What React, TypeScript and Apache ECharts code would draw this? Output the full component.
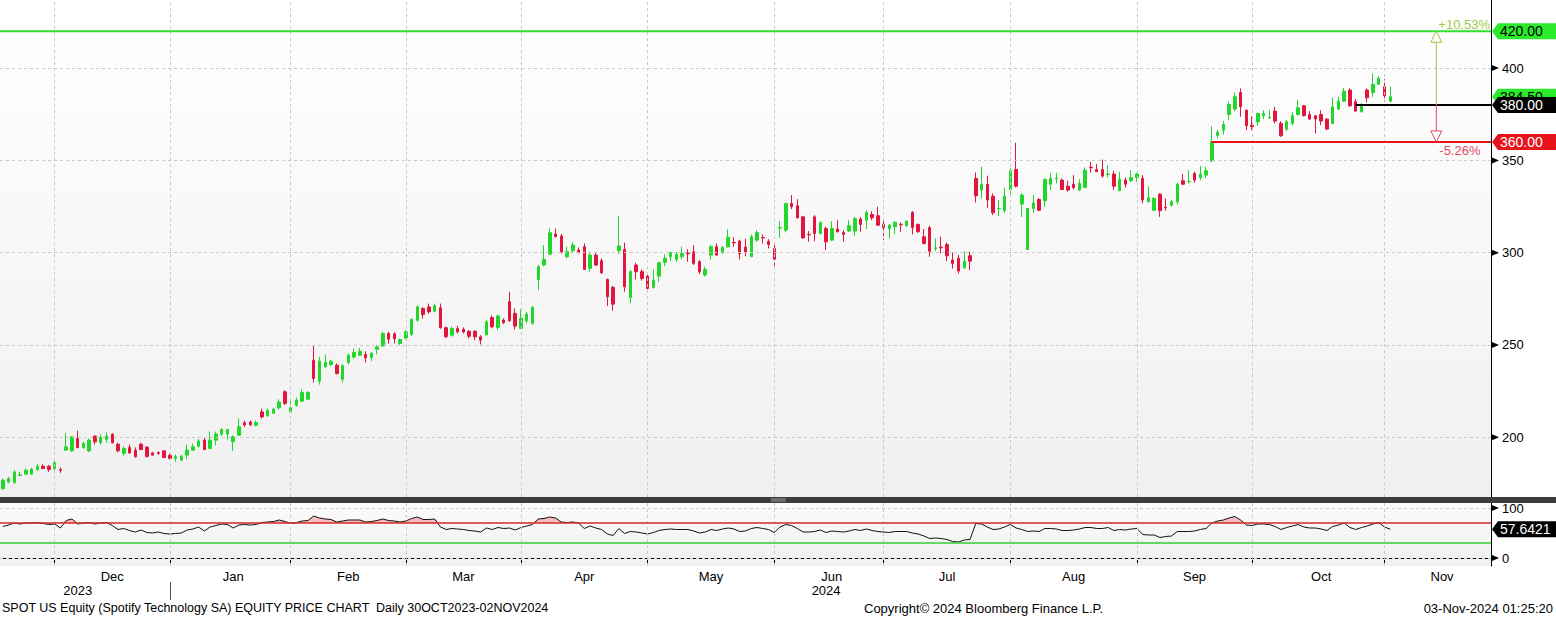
import React, { useEffect, useRef } from "react";
import * as echarts from "echarts";

// ---------- calendar ----------
const START_DATE = "2023-11-16";
const HOLIDAYS = [
  "2023-11-23", "2023-12-25", "2024-01-01", "2024-01-15", "2024-02-19", "2024-03-29",
  "2024-05-27", "2024-06-19", "2024-07-04", "2024-09-02", "2024-11-28",
];
const AXIS_LENGTH = 259;
const MONTH_NAMES = ["Jan", "Feb", "Mar", "Apr", "May", "Jun", "Jul", "Aug", "Sep", "Oct", "Nov", "Dec"];

// ---------- data: [open, high, low, close] per trading day ----------
const OHLC: number[][] = [
  [172.2, 177.6, 171.3, 176.7], [175.8, 178.5, 175.0, 177.6], [175.3, 182.1, 174.9, 181.2], [179.3, 181.2, 178.9, 179.6],
  [180.0, 183.0, 179.5, 182.1], [180.0, 183.5, 179.6, 182.7], [182.5, 185.4, 182.0, 184.3], [184.3, 185.4, 182.7, 183.0],
  [184.3, 184.9, 181.2, 182.5], [183.0, 187.2, 181.2, 186.1], [182.5, 183.6, 180.7, 182.1], [193.0, 202.4, 192.6, 194.8],
  [192.6, 200.6, 192.1, 200.2], [199.3, 203.5, 194.0, 194.4], [194.4, 197.5, 193.8, 196.6], [192.6, 199.3, 191.9, 198.4],
  [200.6, 201.0, 196.0, 197.5], [197.0, 201.5, 196.0, 199.8], [198.8, 202.6, 197.0, 200.6], [201.7, 202.0, 196.6, 197.0],
  [196.2, 197.0, 191.8, 192.6], [191.2, 195.0, 190.0, 193.9], [194.4, 196.0, 191.0, 191.5], [193.0, 194.5, 189.0, 189.4],
  [196.2, 197.0, 193.0, 193.3], [194.6, 195.2, 189.0, 189.5], [191.5, 192.0, 190.0, 190.3], [191.6, 192.4, 190.5, 191.2],
  [192.6, 193.0, 188.6, 189.0], [190.1, 191.0, 188.0, 188.5], [188.5, 190.6, 186.7, 189.4], [187.6, 190.4, 187.0, 189.7],
  [190.3, 196.0, 188.0, 193.0], [193.0, 196.5, 192.6, 194.8], [195.1, 199.0, 194.5, 198.0], [198.4, 199.5, 193.0, 193.3],
  [193.9, 203.0, 193.5, 198.4], [198.4, 203.0, 195.5, 201.7], [201.7, 205.0, 200.6, 204.2], [201.7, 204.5, 198.8, 204.2],
  [197.5, 201.0, 192.6, 200.2], [201.1, 210.3, 200.6, 205.6], [207.8, 209.0, 205.5, 206.6], [208.3, 209.0, 206.0, 206.8],
  [206.5, 209.0, 206.0, 207.9], [213.7, 215.5, 210.1, 211.0], [211.6, 215.5, 211.0, 214.6], [213.0, 216.0, 212.5, 215.2],
  [215.9, 220.5, 215.0, 219.1], [224.6, 225.5, 217.5, 218.2], [213.7, 220.0, 213.4, 215.9], [217.3, 221.5, 216.5, 220.1],
  [219.5, 226.0, 219.0, 224.2], [220.6, 225.0, 220.0, 224.2], [241.7, 249.5, 229.6, 231.8], [230.3, 243.5, 228.5, 241.2],
  [238.1, 244.8, 237.8, 240.5], [239.4, 242.0, 238.5, 241.2], [239.0, 240.0, 234.0, 234.5], [231.4, 239.5, 229.6, 238.7],
  [240.5, 245.5, 239.5, 244.4], [243.5, 248.1, 242.5, 245.9], [244.4, 248.4, 244.0, 246.6], [244.8, 246.6, 240.5, 243.0],
  [243.2, 246.0, 241.2, 245.5], [247.7, 249.9, 245.0, 248.9], [249.5, 257.0, 248.9, 256.2], [256.2, 257.1, 250.8, 253.1],
  [256.0, 256.8, 250.8, 253.3], [250.8, 253.5, 250.0, 252.9], [253.8, 258.0, 253.0, 257.1], [255.6, 264.3, 254.9, 263.9],
  [263.4, 271.5, 262.5, 270.6], [269.7, 270.5, 264.3, 266.5], [270.6, 272.4, 267.0, 267.9], [268.3, 272.4, 267.6, 271.2],
  [270.1, 272.4, 258.8, 259.3], [259.3, 260.0, 253.8, 254.4], [255.3, 260.0, 254.5, 258.9], [258.9, 260.3, 256.2, 257.1],
  [258.5, 259.5, 256.2, 257.1], [257.4, 258.0, 253.5, 254.7], [257.4, 258.0, 252.6, 254.4], [254.4, 255.3, 250.2, 252.6],
  [255.6, 263.5, 255.0, 262.5], [264.8, 266.0, 259.0, 259.8], [259.4, 266.5, 258.0, 265.7], [263.5, 264.4, 261.3, 262.0],
  [273.4, 278.8, 262.5, 263.1], [267.1, 269.8, 258.4, 260.2], [258.9, 269.2, 258.5, 264.4], [263.1, 268.0, 261.7, 266.7],
  [261.7, 271.0, 261.0, 270.3], [285.5, 293.3, 279.7, 292.4], [293.3, 304.1, 292.7, 296.3], [299.2, 313.1, 298.7, 310.8],
  [310.1, 313.1, 308.3, 308.6], [309.0, 310.1, 299.6, 300.5], [297.8, 303.2, 296.9, 300.5], [301.0, 305.9, 299.6, 304.1],
  [301.4, 302.8, 299.6, 300.0], [303.2, 305.0, 290.6, 290.9], [291.5, 300.5, 289.7, 298.7], [298.7, 300.0, 292.7, 293.3],
  [295.6, 296.9, 288.5, 289.1], [285.5, 286.0, 271.1, 276.1], [281.2, 282.0, 268.5, 272.1], [301.0, 319.8, 299.2, 303.6],
  [301.8, 305.4, 278.8, 281.5], [275.7, 290.6, 272.5, 289.7], [293.3, 294.5, 285.5, 289.7], [289.7, 290.9, 284.8, 286.0],
  [287.3, 288.4, 280.1, 280.6], [281.2, 290.9, 280.6, 285.1], [287.3, 295.1, 284.2, 294.5], [294.7, 299.2, 292.7, 296.9],
  [297.8, 300.5, 295.6, 300.0], [296.3, 300.5, 295.1, 299.2], [297.8, 303.2, 296.3, 299.6], [299.8, 301.8, 295.1, 299.4],
  [300.5, 304.1, 293.3, 294.2], [295.1, 296.0, 288.4, 289.7], [287.9, 292.4, 287.0, 290.9], [298.7, 304.1, 296.3, 303.2],
  [303.2, 305.0, 298.1, 298.7], [300.0, 303.6, 299.2, 302.8], [303.2, 312.6, 302.8, 308.3], [305.6, 308.3, 303.2, 305.3],
  [306.3, 307.0, 296.3, 299.4], [303.0, 307.5, 298.0, 300.1], [297.8, 309.9, 297.8, 308.6], [306.8, 312.2, 305.9, 310.9],
  [308.2, 309.9, 305.0, 308.0], [306.2, 307.3, 302.3, 304.4], [302.3, 305.0, 292.9, 296.5], [313.3, 317.1, 308.0, 313.6],
  [312.2, 327.0, 311.0, 326.7], [326.7, 331.2, 323.6, 324.9], [325.4, 329.0, 318.5, 318.9], [319.4, 320.0, 307.6, 308.0],
  [309.9, 311.7, 305.9, 309.7], [319.4, 320.3, 306.2, 310.4], [310.4, 317.0, 309.9, 316.4], [313.1, 314.0, 301.4, 305.9],
  [306.8, 317.1, 306.2, 313.1], [312.8, 317.6, 311.0, 311.3], [310.9, 312.2, 305.9, 309.9], [311.7, 317.6, 311.3, 314.6],
  [311.7, 319.4, 309.1, 318.5], [318.2, 319.4, 311.3, 315.3], [317.6, 323.0, 312.8, 321.8], [320.7, 322.5, 317.6, 318.9],
  [320.0, 324.9, 314.6, 314.9], [315.3, 317.1, 306.8, 313.5], [313.1, 315.5, 307.7, 314.9], [314.0, 317.1, 309.9, 316.4],
  [315.4, 316.4, 311.3, 315.1], [314.6, 317.6, 314.0, 317.1], [321.8, 322.5, 309.9, 313.5], [315.3, 315.8, 310.9, 311.3],
  [308.6, 312.8, 304.4, 305.0], [313.5, 314.6, 297.8, 300.8], [302.2, 307.7, 300.8, 302.6], [303.0, 308.6, 299.6, 302.6],
  [304.4, 305.5, 295.4, 298.3], [296.0, 300.1, 291.4, 294.1], [296.9, 298.7, 288.7, 290.0], [291.8, 300.8, 291.1, 295.4],
  [298.3, 300.5, 290.5, 295.4], [340.2, 343.5, 327.2, 330.8], [333.9, 346.5, 329.4, 337.0], [337.0, 341.7, 324.3, 328.5],
  [330.6, 332.1, 320.3, 321.6], [323.8, 328.5, 319.8, 324.0], [322.7, 335.3, 321.6, 330.6], [334.2, 345.6, 330.3, 344.4],
  [345.1, 359.5, 335.3, 336.0], [326.3, 332.4, 319.4, 331.2], [301.7, 324.0, 301.4, 323.9], [323.9, 331.2, 321.6, 327.0],
  [328.8, 329.5, 322.5, 323.0], [328.1, 340.2, 324.8, 339.7], [337.1, 343.3, 333.9, 340.2], [340.1, 343.3, 337.5, 340.4],
  [339.3, 340.2, 333.9, 334.2], [336.0, 338.9, 333.0, 333.9], [337.1, 342.0, 334.2, 335.3], [333.9, 339.7, 333.5, 337.5],
  [335.3, 346.2, 335.3, 344.7], [346.3, 349.2, 343.3, 346.0], [345.1, 348.0, 343.8, 343.9], [345.1, 350.5, 340.7, 341.5],
  [342.4, 347.4, 340.7, 342.6], [342.6, 344.4, 333.9, 336.0], [333.5, 343.8, 333.5, 339.7], [339.3, 340.7, 335.3, 337.1],
  [339.0, 344.7, 338.4, 340.7], [340.7, 343.3, 338.4, 342.6], [340.2, 342.0, 326.7, 328.5], [327.6, 336.0, 327.0, 329.9],
  [323.0, 330.0, 322.5, 329.4], [331.7, 332.1, 319.4, 322.7], [324.6, 329.4, 322.7, 324.3], [325.7, 328.5, 325.0, 327.6],
  [327.6, 337.9, 326.3, 337.1], [339.0, 342.6, 336.6, 337.1], [338.4, 344.7, 337.5, 338.6], [342.9, 343.8, 337.9, 339.3],
  [340.7, 346.9, 339.3, 342.6], [342.0, 346.5, 340.2, 344.4], [349.7, 368.5, 349.2, 360.2], [363.5, 366.6, 362.0, 365.3],
  [366.4, 371.3, 364.0, 369.5], [374.9, 381.8, 371.8, 380.3], [377.8, 386.8, 376.7, 384.5], [386.8, 389.0, 373.6, 379.1],
  [377.2, 377.5, 366.4, 368.8], [369.1, 373.6, 366.4, 368.2], [370.9, 375.8, 368.7, 375.4], [374.2, 377.2, 372.4, 375.4],
  [373.0, 377.2, 372.4, 373.2], [376.7, 379.0, 370.0, 371.3], [370.0, 371.3, 362.8, 363.3], [366.9, 371.8, 365.9, 370.9],
  [370.0, 376.0, 369.1, 374.2], [374.9, 382.7, 374.2, 378.5], [379.6, 380.0, 373.8, 374.2], [374.9, 376.7, 371.8, 372.4],
  [374.2, 374.5, 364.6, 372.4], [374.9, 377.2, 369.1, 371.3], [372.4, 372.8, 366.4, 367.0], [370.0, 383.9, 370.0, 379.0],
  [377.8, 384.5, 377.2, 382.1], [382.1, 389.3, 381.8, 387.5], [388.1, 389.0, 379.0, 379.6], [381.8, 383.2, 376.3, 376.7],
  [376.3, 380.9, 376.0, 380.3], [388.1, 389.0, 381.4, 383.9], [386.8, 397.1, 384.5, 391.2], [391.2, 395.8, 390.8, 394.4],
  [389.9, 394.0, 381.8, 385.0], [382.1, 389.9, 381.4, 384.5],
];

const RSI: number[] = [
  63, 66, 70, 68, 70, 70, 71, 69, 67, 68, 60, 75, 78, 68, 70, 71, 68, 70, 71, 65,
  57, 59, 55, 52, 56, 51, 50, 52, 49, 48, 49, 50, 56, 58, 62, 54, 62, 65, 68, 67,
  60, 66, 67, 66, 67, 71, 72, 73, 76, 73, 69, 71, 74, 75, 84, 80, 78, 77, 72, 74,
  76, 76, 76, 72, 73, 75, 78, 75, 74, 72, 74, 79, 82, 77, 77, 78, 62, 57, 59, 58,
  57, 55, 54, 52, 60, 57, 61, 59, 60, 56, 61, 64, 67, 78, 79, 82, 80, 72, 71, 72,
  70, 59, 64, 60, 57, 48, 45, 59, 49, 53, 52, 50, 48, 51, 55, 57, 58, 57, 57, 57,
  54, 50, 52, 57, 55, 58, 60, 58, 53, 54, 59, 61, 59, 57, 51, 62, 67, 65, 59, 52,
  52, 53, 56, 51, 54, 53, 52, 54, 57, 55, 58, 55, 53, 52, 51, 53, 53, 53, 50, 48,
  44, 39, 40, 39, 37, 33, 32, 36, 37, 69, 68, 62, 57, 58, 62, 67, 60, 57, 53, 54,
  53, 59, 59, 58, 55, 55, 56, 58, 61, 61, 59, 59, 61, 55, 57, 56, 58, 59, 47, 46,
  46, 41, 43, 44, 53, 53, 53, 54, 57, 59, 70, 74, 76, 80, 83, 76, 66, 65, 68, 68,
  67, 63, 57, 61, 64, 67, 62, 60, 60, 58, 55, 63, 66, 70, 61, 57, 61, 64, 68, 71,
  62, 57.6421,
];

const PRICE_TICKS = [200, 250, 300, 350, 400];
const RSI_TICKS = [0, 100];
const PRICE_MIN = 167.6;
const PRICE_MAX = 436.9;
const RSI_MIN = -16;
const RSI_MAX = 110;
const RSI_OVERBOUGHT = 70;
const RSI_OVERSOLD = 30;
const LEVEL_TOP = 420;
const LEVEL_MID = 380;
const LEVEL_LOW = 360;
const LAST_PRICE = 384.5;
const LEVEL_MID_START = 235;
const LEVEL_LOW_START = 210;
const ARROW_AT = 249;
const UP_PCT = "+10.53%";
const DOWN_PCT = "-5.26%";

// ---------- styles ----------
const FONT = "Liberation Sans";
const UP = "#22d62b";
const DOWN = "#e0163f";
const TAG_GREEN = "#2bea2b";
const LINE_GREEN = "#2ee02e";
const LINE_RED = "#e8141c";
const GRID_W = 1491;

function tradingDays(start: string, count: number): string[] {
  const out: string[] = [];
  const d = new Date(start + "T00:00:00Z");
  while (out.length < count) {
    const wd = d.getUTCDay();
    const s = d.toISOString().slice(0, 10);
    if (wd !== 0 && wd !== 6 && HOLIDAYS.indexOf(s) < 0) out.push(s);
    d.setUTCDate(d.getUTCDate() + 1);
  }
  return out;
}

const CALENDAR = tradingDays(START_DATE, 290);
const CATS = CALENDAR.slice(0, AXIS_LENGTH);

const MONTH_END = new Set<number>();
for (let i = 0; i < AXIS_LENGTH; i++) {
  if (CALENDAR[i].slice(0, 7) !== CALENDAR[i + 1].slice(0, 7)) MONTH_END.add(i);
}
const MONTH_LABEL = new Set<number>();
{
  let s = 0;
  for (let i = 1; i <= CALENDAR.length; i++) {
    if (i === CALENDAR.length || CALENDAR[i].slice(0, 7) !== CALENDAR[s].slice(0, 7)) {
      if (s > 0 && i < CALENDAR.length) {
        const k = Math.floor((s + i - 1) / 2);
        if (k < AXIS_LENGTH) MONTH_LABEL.add(k);
      }
      s = i;
    }
  }
}
const YEAR_LABEL = new Set<number>();
let YEAR_END = -1;
{
  let s = 0;
  for (let i = 1; i <= CATS.length; i++) {
    if (i === CATS.length || CATS[i].slice(0, 4) !== CATS[s].slice(0, 4)) {
      YEAR_LABEL.add(Math.round((s + i) / 2) - 2);
      if (i < CATS.length) YEAR_END = i - 1;
      s = i;
    }
  }
}

const gridLine = { color: "#c9c9c9", type: [3, 3] as any, width: 1 };

function buildOption(): any {
  const candles = OHLC.map(([o, h, l, c]) => [o, c, l, h]);
  const rsiBase = RSI.map(() => RSI_OVERBOUGHT);
  const rsiExcess = RSI.map((v) => Math.max(v - RSI_OVERBOUGHT, 0));
  const vGrid = Array.from(MONTH_END).map((i) => ({ xAxis: CATS[i] }));

  const axisLabelCommon = { color: "#000", fontSize: 13, fontFamily: FONT };

  return {
    animation: false,
    backgroundColor: "#ffffff",
    textStyle: { fontFamily: FONT },
    grid: [
      {
        left: 0, top: 0, width: GRID_W, height: 497, show: true, borderWidth: 0,
        backgroundColor: new echarts.graphic.LinearGradient(0, 0, 0, 1, [
          { offset: 0, color: "#ffffff" },
          { offset: 1, color: "#f0f0f0" },
        ]),
      },
      {
        left: 0, top: 503, width: GRID_W, height: 63, show: true, borderWidth: 0,
        backgroundColor: new echarts.graphic.LinearGradient(0, 0, 0, 1, [
          { offset: 0, color: "#fbfbfb" },
          { offset: 1, color: "#f0f0f0" },
        ]),
      },
    ],
    xAxis: [
      {
        gridIndex: 0, type: "category", data: CATS, boundaryGap: true,
        axisLine: { show: false }, axisTick: { show: false }, axisLabel: { show: false }, splitLine: { show: false },
      },
      {
        gridIndex: 1, type: "category", data: CATS, boundaryGap: true, position: "bottom",
        axisLine: { show: true, lineStyle: { color: "#000", width: 1 } },
        axisTick: {
          show: true, alignWithLabel: true, length: 5, lineStyle: { color: "#000" },
          interval: (i: number) => MONTH_END.has(i),
        },
        axisLabel: {
          ...axisLabelCommon, margin: 4,
          interval: (i: number) => MONTH_LABEL.has(i),
          formatter: (v: string) => MONTH_NAMES[parseInt(v.slice(5, 7), 10) - 1],
        },
        splitLine: { show: false },
      },
      {
        gridIndex: 1, type: "category", data: CATS, boundaryGap: true, position: "bottom", offset: 16,
        axisLine: { show: false },
        axisTick: {
          show: true, alignWithLabel: true, length: 18, lineStyle: { color: "#555" },
          interval: (i: number) => i === YEAR_END,
        },
        axisLabel: {
          ...axisLabelCommon, margin: 2,
          interval: (i: number) => YEAR_LABEL.has(i),
          formatter: (v: string) => v.slice(0, 4),
        },
        splitLine: { show: false },
      },
    ],
    yAxis: [
      {
        gridIndex: 0, type: "value", position: "right", min: PRICE_MIN, max: PRICE_MAX,
        axisLine: { show: true, lineStyle: { color: "#000", width: 1 } },
        axisTick: { show: false },
        splitLine: { show: false },
        axisLabel: { ...axisLabelCommon, margin: 11, customValues: PRICE_TICKS },
      },
      {
        gridIndex: 1, type: "value", position: "right", min: RSI_MIN, max: RSI_MAX,
        axisLine: { show: true, lineStyle: { color: "#000", width: 1 } },
        axisTick: { show: false },
        splitLine: { show: false },
        axisLabel: { ...axisLabelCommon, margin: 11, customValues: RSI_TICKS },
      },
    ],
    series: [
      {
        name: "grid-main", type: "line", xAxisIndex: 0, yAxisIndex: 0, data: [], z: 1, silent: true,
        markLine: {
          silent: true, symbol: "none", animation: false, label: { show: false },
          lineStyle: gridLine,
          data: [...PRICE_TICKS.map((v) => ({ yAxis: v })), ...vGrid],
        },
      },
      {
        name: "price", type: "candlestick", xAxisIndex: 0, yAxisIndex: 0, data: candles, z: 3, silent: true,
        barWidth: 3,
        itemStyle: { color: UP, color0: DOWN, borderColor: UP, borderColor0: DOWN, borderWidth: 1 },
      },
      {
        name: "grid-rsi", type: "line", xAxisIndex: 1, yAxisIndex: 1, data: [], z: 1, silent: true,
        markLine: {
          silent: true, symbol: "none", animation: false, label: { show: false },
          lineStyle: gridLine,
          data: [...RSI_TICKS.map((v) => ({ yAxis: v })), ...vGrid],
        },
      },
      {
        name: "rsi-base", type: "line", xAxisIndex: 1, yAxisIndex: 1, data: rsiBase, stack: "ob",
        symbol: "none", lineStyle: { width: 0, opacity: 0 }, z: 2, silent: true,
      },
      {
        name: "rsi-excess", type: "line", xAxisIndex: 1, yAxisIndex: 1, data: rsiExcess, stack: "ob",
        symbol: "none", lineStyle: { width: 0, opacity: 0 }, areaStyle: { color: "#f4bcbc", opacity: 1 },
        z: 2, silent: true,
      },
      {
        name: "rsi", type: "line", xAxisIndex: 1, yAxisIndex: 1, data: RSI, symbol: "none", z: 4, silent: true,
        lineStyle: { color: "#111", width: 1 },
        markLine: {
          silent: true, symbol: "none", animation: false, label: { show: false },
          data: [
            { yAxis: RSI_OVERBOUGHT, lineStyle: { color: "#d42a2a", width: 1.5, type: "solid" } },
            { yAxis: RSI_OVERSOLD, lineStyle: { color: "#33cc33", width: 1.5, type: "solid" } },
          ],
        },
      },
    ],
  };
}

function tag(xl: number, xr: number, yc: number, fill: string, text: string, textColor: string, z: number) {
  const h = 8;
  return [
    {
      type: "polygon", z, silent: true,
      shape: { points: [[xl, yc], [xl + 6, yc - h], [xr, yc - h], [xr, yc + h], [xl + 6, yc + h]] },
      style: { fill },
    },
    {
      type: "text", z: z + 1, silent: true, x: xl + 8, y: yc,
      style: { text, fill: textColor, fontSize: 14, fontFamily: FONT, verticalAlign: "middle", align: "left" },
    },
  ];
}

export default function App() {
  const ref = useRef<HTMLDivElement>(null);

  useEffect(() => {
    document.body.style.margin = "0";
    const chart = echarts.init(ref.current!, null, { renderer: "svg" });
    chart.setOption(buildOption());

    const py = (v: number) => chart.convertToPixel({ yAxisIndex: 0 }, v) as number;
    const ry = (v: number) => chart.convertToPixel({ yAxisIndex: 1 }, v) as number;
    const cx = (i: number) => chart.convertToPixel({ xAxisIndex: 0 }, i) as number;
    const band = cx(1) - cx(0);
    const right = cx(AXIS_LENGTH - 1) + band / 2;
    const W = 1556;
    const els: any[] = [];

    // level lines
    els.push({ type: "line", z: 10, silent: true, shape: { x1: 0, y1: py(LEVEL_TOP), x2: right, y2: py(LEVEL_TOP) }, style: { stroke: LINE_GREEN, lineWidth: 2 } });
    els.push({ type: "line", z: 10, silent: true, shape: { x1: cx(LEVEL_MID_START), y1: py(LEVEL_MID), x2: right, y2: py(LEVEL_MID) }, style: { stroke: "#000", lineWidth: 2 } });
    els.push({ type: "line", z: 10, silent: true, shape: { x1: cx(LEVEL_LOW_START), y1: py(LEVEL_LOW), x2: right, y2: py(LEVEL_LOW) }, style: { stroke: LINE_RED, lineWidth: 2 } });

    // measuring arrow
    const ax = cx(ARROW_AT);
    const yT = py(LEVEL_TOP), yM = py(LEVEL_MID), yL = py(LEVEL_LOW);
    const upC = "#a4c43c", dnC = "#e04a64";
    els.push({ type: "line", z: 11, silent: true, shape: { x1: ax, y1: yM, x2: ax, y2: yT + 10 }, style: { stroke: upC, lineWidth: 1 } });
    els.push({ type: "line", z: 11, silent: true, shape: { x1: ax, y1: yM, x2: ax, y2: yL - 10 }, style: { stroke: dnC, lineWidth: 1 } });
    els.push({ type: "polygon", z: 12, silent: true, shape: { points: [[ax, yT], [ax - 5.5, yT + 11], [ax + 5.5, yT + 11]] }, style: { fill: "#ffffff", stroke: upC, lineWidth: 1 } });
    els.push({ type: "polygon", z: 12, silent: true, shape: { points: [[ax, yL], [ax - 5.5, yL - 11], [ax + 5.5, yL - 11]] }, style: { fill: "#ffffff", stroke: dnC, lineWidth: 1 } });
    els.push({ type: "text", z: 12, silent: true, x: ax + 2, y: yT - 7, style: { text: UP_PCT, fill: "#9ccc44", fontSize: 13, fontFamily: FONT, verticalAlign: "middle" } });
    els.push({ type: "text", z: 12, silent: true, x: ax + 3, y: yL + 9, style: { text: DOWN_PCT, fill: "#e04a64", fontSize: 13, fontFamily: FONT, verticalAlign: "middle" } });

    // axis triangles
    const axisX = right;
    PRICE_TICKS.forEach((v) => {
      const y = py(v);
      els.push({ type: "polygon", z: 5, silent: true, shape: { points: [[axisX + 1, y - 3], [axisX + 8, y], [axisX + 1, y + 3]] }, style: { fill: "#000" } });
    });
    RSI_TICKS.forEach((v) => {
      const y = ry(v);
      els.push({ type: "polygon", z: 5, silent: true, shape: { points: [[axisX + 1, y - 3], [axisX + 8, y], [axisX + 1, y + 3]] }, style: { fill: "#000" } });
    });

    // tags (the last-price tag sits partly under the 380 tag, as in the source)
    els.push(...tag(axisX + 1, W, py(LEVEL_TOP), TAG_GREEN, LEVEL_TOP.toFixed(2), "#000", 20));
    els.push(...tag(axisX + 1, W, py(LAST_PRICE), TAG_GREEN, LAST_PRICE.toFixed(2), "#000", 20));
    els.push(...tag(axisX + 1, W, py(LEVEL_MID), "#000", LEVEL_MID.toFixed(2), "#fff", 22));
    els.push(...tag(axisX + 1, W, py(LEVEL_LOW), LINE_RED, LEVEL_LOW.toFixed(2), "#fff", 22));
    els.push(...tag(axisX + 1, W, ry(RSI[RSI.length - 1]), "#000", RSI[RSI.length - 1].toFixed(4), "#fff", 22));

    // panel separator
    els.push({ type: "rect", z: 30, silent: true, shape: { x: 0, y: 497, width: W, height: 6 }, style: { fill: "#3c3c3c" } });
    els.push({ type: "line", z: 31, silent: true, shape: { x1: 771, y1: 499, x2: 786, y2: 499 }, style: { stroke: "#9a9a9a", lineWidth: 1 } });
    els.push({ type: "line", z: 31, silent: true, shape: { x1: 771, y1: 501, x2: 786, y2: 501 }, style: { stroke: "#9a9a9a", lineWidth: 1 } });

    // footer texts
    const foot = { fontFamily: FONT, fill: "#000", verticalAlign: "middle" };
    els.push({ type: "text", silent: true, x: 2, y: 608, style: { ...foot, fontSize: 12.5, text: "SPOT US Equity (Spotify Technology SA) EQUITY PRICE CHART  Daily 30OCT2023-02NOV2024" } });
    els.push({ type: "text", silent: true, x: 864, y: 608, style: { ...foot, fontSize: 13, text: "Copyright\u00a9 2024 Bloomberg Finance L.P." } });
    els.push({ type: "text", silent: true, x: 1553, y: 608, style: { ...foot, fontSize: 13, align: "right", text: "03-Nov-2024 01:25:20" } });

    chart.setOption({ graphic: { elements: els } });
    return () => chart.dispose();
  }, []);

  return <div ref={ref} style={{ width: 1556, height: 617 }} />;
}
